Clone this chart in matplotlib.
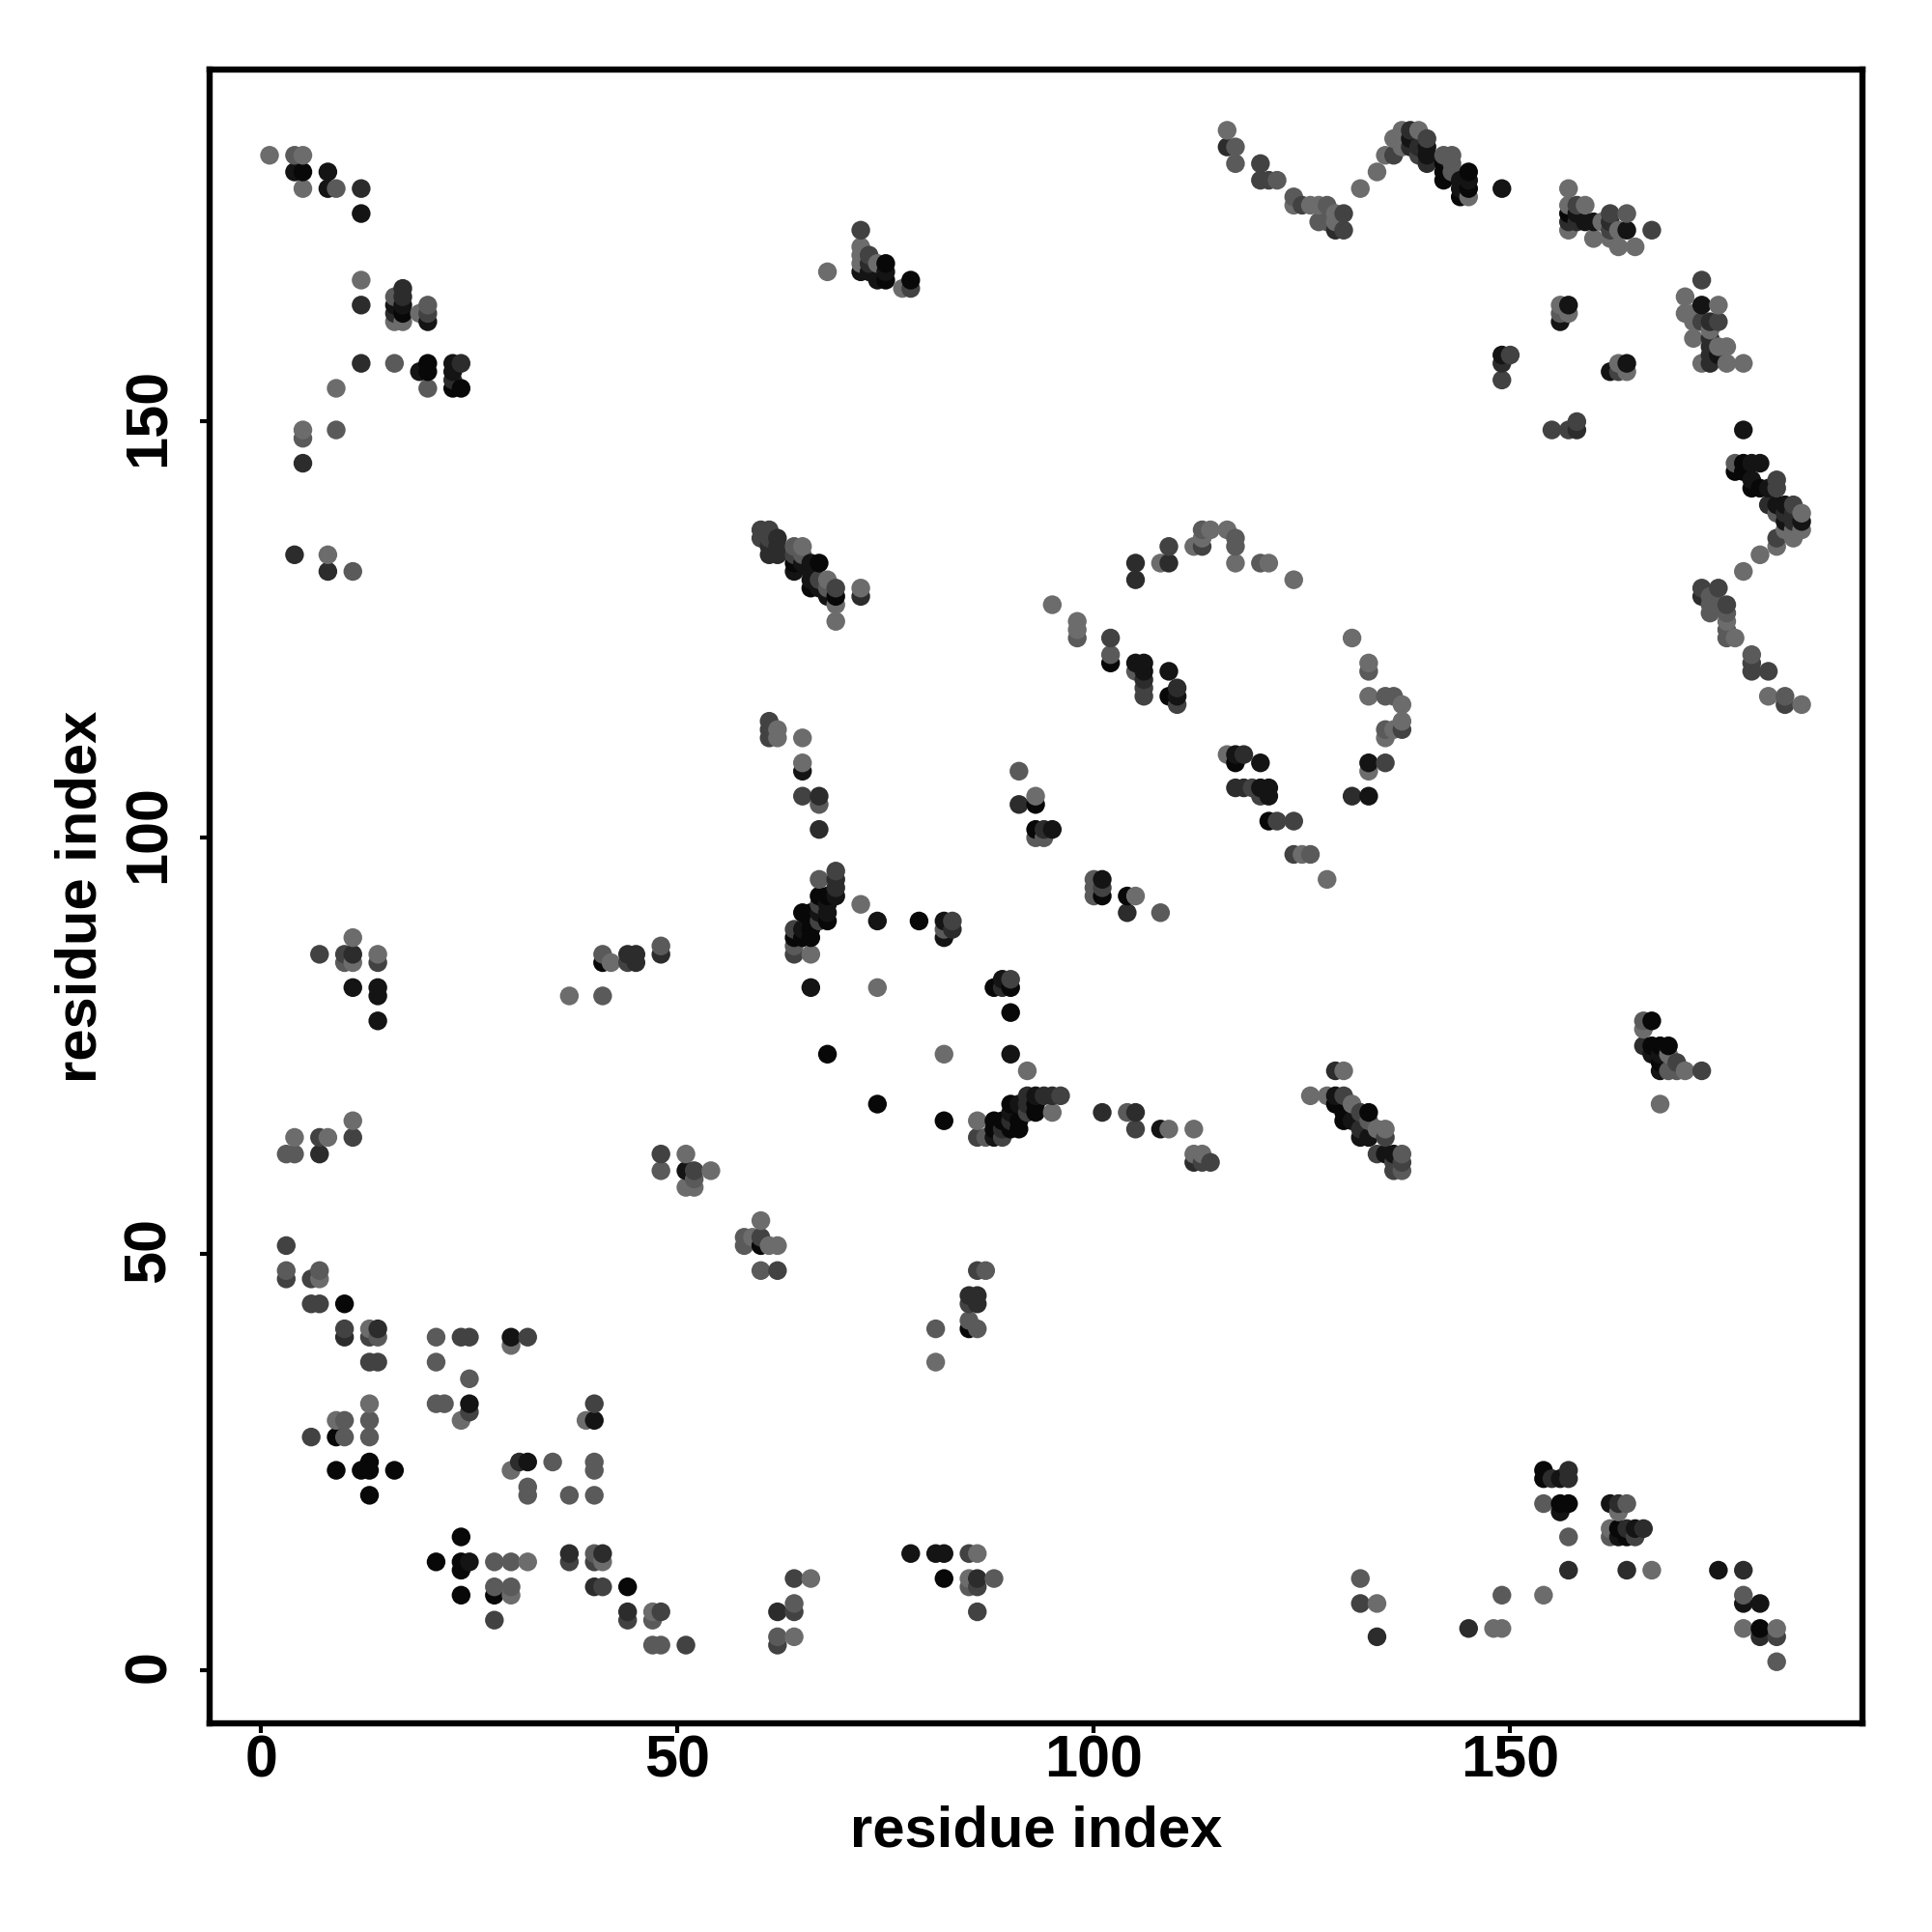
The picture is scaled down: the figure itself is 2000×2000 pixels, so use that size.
import matplotlib
matplotlib.use("Agg")
import matplotlib.pyplot as plt
from matplotlib.transforms import ScaledTranslation

# contact pairs (residue i, residue j), grouped by grey level, darkest first
level_08 = [(5,180),(20,157),(20,156),(23,154),(24,154),(102,121),(109,117),(117,109),(121,102),(93,104),(93,101),(101,93),(104,93),
            (64,88),(65,88),(66,88),(66,89),(66,90),(65,91),(66,91),(67,93),(68,93),(68,90),(79,90),(90,82),(90,79),(68,74),(74,68),
            (88,66),(89,66),(91,66),(88,65),(90,65),(91,65),(90,68),(93,68),(93,67),(82,66),(88,82),(142,181),(142,180),(142,179),
            (144,177),(145,180),(145,178),(157,175),(177,144),(178,145),(178,144),(179,142),(180,142),(69,129),(66,130),(64,133),
            (67,133),(75,169),(75,167),(78,167),(167,78),(167,75),(168,75),(169,75),(168,73),(129,68),(130,67),(130,66),(133,67),
            (41,85),(10,44),(9,24),(12,24),(13,24),(13,25),(16,24),(13,21),(24,16),(21,13),(24,13),(24,12),(24,9),(28,9),(9,28),
            (44,10),(60,51),(85,41),(82,11),(154,24),(154,23),(156,20),(157,20),(163,17),(164,16),(180,5),(17,163)]
level_14 = [(8,180),(8,178),(12,175),(16,164),(19,156),(23,157),(23,156),(17,164),(20,162),(4,180),(149,178),(138,184),(140,183),
            (140,182),(144,179),(144,178),(145,179),(158,175),(159,174),(160,174),(164,173),(173,164),(175,158),(157,164),(156,162),
            (149,158),(162,156),(164,157),(178,149),(179,145),(180,145),(179,143),(181,142),(182,140),(183,140),(183,138),(185,138),
            (133,109),(133,105),(105,121),(106,121),(106,120),(109,120),(110,117),(117,110),(120,109),(120,106),(121,106),(121,105),
            (69,93),(68,92),(68,91),(67,91),(65,89),(66,82),(74,90),(82,90),(82,88),(90,74),(93,69),(91,68),(90,67),(88,64),
            (101,95),(108,65),(95,101),(66,133),(65,133),(64,132),(66,132),(66,131),(67,130),(68,129),(72,168),(73,168),(74,167),(75,168),
            (168,74),(167,74),(168,72),(129,69),(131,66),(132,64),(133,64),(135,62),(136,62),(11,82),(14,82),(14,81),(14,78),(25,13),
            (32,25),(40,30),(30,40),(25,32),(51,60),(78,14),(81,14),(82,14),(175,12),(178,8),(180,8),(156,23),(156,19),(162,20),(165,17),
            (163,16),(89,83),(65,108)]
level_2c = [(12,164),(12,157),(17,166),(17,165),(5,145),(8,132),(4,134),(12,178),(24,157),(116,183),(129,173),(138,185),(138,183),
            (139,183),(140,181),(157,174),(158,174),(158,175),(162,174),(149,157),(158,149),(174,162),(173,129),(174,160),(174,159),
            (174,158),(174,157),(181,140),(184,139),(183,139),(184,138),(131,105),(105,131),(109,133),(105,133),(62,135),(62,136),
            (62,134),(61,135),(72,129),(67,105),(67,101),(118,110),(106,119),(110,118),(117,106),(118,106),(91,104),(94,101),(69,94),(83,89),
            (104,91),(92,69),(94,69),(95,69),(92,68),(90,66),(89,65),(89,82),(101,67),(105,67),(112,61),(11,86),(44,86),(45,86),(45,85),
            (48,86),(7,62),(14,41),(10,40),(40,10),(41,14),(44,7),(85,45),(86,45),(86,44),(31,25),(62,7),(86,11),(157,24),(157,23),(155,23),
            (163,20),(164,17),(166,17),(164,12),(178,12),(180,4),(134,4),(145,5),(129,72),(132,65),(166,75),(73,169),(69,95),(61,134),(157,12),
            (16,163),(23,155),(37,14)]
level_42 = [(12,157),(72,173),(73,170),(78,166),(120,181),(120,179),(121,179),(125,176),(130,175),(130,173),(136,182),(139,182),(140,184),
            (158,176),(162,175),(162,173),(167,173),(173,167),(175,162),(173,162),(149,155),(150,158),(155,149),(157,149),(158,150),
            (163,156),(182,143),(184,140),(182,136),(173,130),(175,130),(176,128),(179,121),(179,120),(181,120),(183,116),(135,109),
            (137,113),(61,137),(61,136),(60,136),(60,137),(64,134),(67,131),(69,130),(109,135),(113,135),(102,124),(110,116),(119,106),
            (120,105),(122,102),(124,102),(124,98),(65,105),(69,96),(67,92),(64,89),(64,86),(67,90),(83,90),(90,83),(96,69),(92,67),(86,64),
            (89,64),(105,65),(113,61),(114,61),(136,61),(137,61),(136,60),(134,62),(135,64),(132,67),(130,69),(170,73),(173,72),(7,86),(10,86),
            (14,85),(44,85),(3,51),(3,47),(6,47),(6,44),(7,44),(10,41),(13,40),(25,40),(14,37),(13,37),(7,64),(11,64),(48,62),(24,40),(32,40),
            (25,31),(40,32),(31,25),(6,28),(28,6),(37,13),(40,13),(41,10),(44,6),(48,7),(51,3),(62,3),(64,11),(64,7),(62,48),(85,14),
            (85,44),(86,7),(86,10),(52,60),(132,8),(165,16),(182,4),(60,52),(149,158),(86,48),(101,94),(182,142),
            (61,114),(61,113),(61,112),(20,163),(106,118),(106,117)]
level_5a = [(4,182),(9,178),(16,165),(16,157),(20,164),(20,154),(5,148),(9,149),(11,132),(117,183),(117,181),(122,179),(124,177),(127,174),
            (128,176),(128,174),(142,182),(143,182),(143,181),(143,180),(164,175),(177,145),(169,72),(170,72),(182,139),(182,143),
            (176,125),(176,124),(176,127),(174,129),(174,128),(174,127),(175,128),(179,122),(183,117),(135,117),(136,117),(135,113),(133,120),
            (64,135),(65,134),(68,130),(113,137),(117,135),(117,136),(120,133),(91,108),(93,100),(94,100),(98,124),(102,124),(102,122),
            (105,120),(110,116),(126,98),(67,104),(67,95),(64,87),(82,89),(89,82),(87,64),(100,94),(100,93),(100,95),(108,91),(104,67),(137,62),
            (137,60),(133,66),(166,78),(169,72),(10,85),(41,86),(41,81),(48,87),(3,48),(3,62),(4,62),(7,48),(14,40),(21,40),(21,37),(25,35),
            (21,32),(22,32),(13,30),(10,30),(13,28),(10,28),(35,25),(40,25),(40,24),(32,22),(32,21),(37,21),(40,14),(28,13),(30,13),(28,10),(30,10),
            (47,6),(47,3),(48,3),(48,60),(52,59),(60,48),(58,52),(58,51),(40,21),(85,10),(85,42),(86,41),(81,41),(64,8),(62,4),(88,11),(149,9),
            (154,20),(157,16),(164,20),(162,16),(178,9),(182,1),(132,11),(156,163),(87,48)]
level_6c = [(1,182),(5,182),(5,178),(12,167),(16,162),(17,162),(19,163),(8,134),(5,149),(9,154),(116,185),(124,176),(126,176),(127,176),(129,175),
            (129,174),(127,174),(132,178),(134,180),(135,182),(136,184),(137,185),(137,183),(139,185),(145,177),(157,178),(157,176),(159,176),
            (157,173),(161,174),(160,172),(163,173),(162,172),(163,171),(165,171),(171,165),(175,164),(171,163),(172,163),(172,162),(174,161),
            (172,160),(175,159),(176,159),(173,157),(176,157),(178,157),(156,164),(157,163),(163,157),(164,156),(185,139),(185,137),(183,137),
            (184,137),(184,136),(182,135),(180,134),(178,132),(176,126),(177,124),(181,117),(185,116),(131,124),(133,121),(133,117),(137,116),
            (137,114),(136,113),(135,112),(133,108),(128,95),(116,110),(65,135),(68,131),(69,128),(69,126),(72,130),(68,168),(72,171),
            (72,170),(72,169),(74,169),(77,166),(108,133),(112,135),(113,136),(114,137),(116,137),(117,133),(121,133),(124,131),(95,128),(98,126),
            (98,125),(62,113),(62,112),(65,112),(65,109),(93,105),(110,116),(125,98),(72,92),(66,86),(74,82),(82,74),(92,72),(95,67),(86,66),
            (109,65),(112,65),(112,62),(113,62),(126,69),(128,69),(130,72),(131,68),(134,65),(135,65),(166,77),(169,74),(171,72),(168,68),(11,88),(14,86),
            (11,85),(42,85),(37,81),(4,64),(8,64),(11,66),(51,62),(54,60),(51,58),(52,58),(7,47),(13,41),(30,39),(13,32),(9,30),(24,30),(39,30),(30,24),
            (30,9),(32,13),(41,13),(47,7),(60,54),(61,51),(62,51),(85,42),(81,37),(86,14),(85,11),(66,11),(64,4),(134,8),(148,5),(149,5),(154,9),(167,12),
            (178,5),(182,5),(163,19),(162,17),(59,52),(10,28),(60,48),(105,93)]

grey_levels = {"#080808": level_08, "#141414": level_14, "#2c2c2c": level_2c,
               "#424242": level_42, "#5a5a5a": level_5a, "#6c6c6c": level_6c}
x_ticks = [0, 50, 100, 150]
y_ticks = [0, 50, 100, 150]
axis_label = "residue index"

plt.rcParams["font.family"] = ["Liberation Sans", "DejaVu Sans"]
plt.rcParams["font.weight"] = "bold"

fig = plt.figure(figsize=(20, 20), dpi=100, facecolor="white")
ax = fig.add_axes([217 / 2000, 216 / 2000, 1711 / 2000, 1712 / 2000])

# one colour per contact; later duplicates (darker-first order) are ignored
contacts = {}
for colour, pairs in grey_levels.items():
    for pair in pairs:
        contacts.setdefault(pair, colour)
ordered = sorted(contacts)
xs = [p[0] for p in ordered]
ys = [p[1] for p in ordered]
cs = [contacts[p] for p in ordered]
ax.scatter(xs, ys, s=195, c=cs, linewidths=0, zorder=3)

ax.set_xlim(-6.2, 192.3)
ax.set_ylim(-6.4, 192.3)
ax.set_xticks(x_ticks)
ax.set_yticks(y_ticks)
for side in ax.spines.values():
    side.set_linewidth(4.6)
ax.tick_params(axis="x", length=7, width=3, labelsize=44, pad=1.5)
ax.tick_params(axis="y", length=7, width=3, labelsize=44, pad=17)
shift_up = ScaledTranslation(0, 3 / 72, fig.dpi_scale_trans)
for lab in ax.get_yticklabels():
    lab.set_rotation(90)
    lab.set_va("center")
    lab.set_transform(lab.get_transform() + shift_up)
ax.set_xlabel(axis_label, fontsize=43, fontweight="bold", va="baseline")
ax.xaxis.set_label_coords(0.5, -0.0742)
ax.set_ylabel(axis_label, fontsize=43, fontweight="bold", va="baseline", rotation_mode="anchor")
ax.yaxis.set_label_coords(-0.0686, 0.5)

fig.savefig("out.png", dpi=100)
